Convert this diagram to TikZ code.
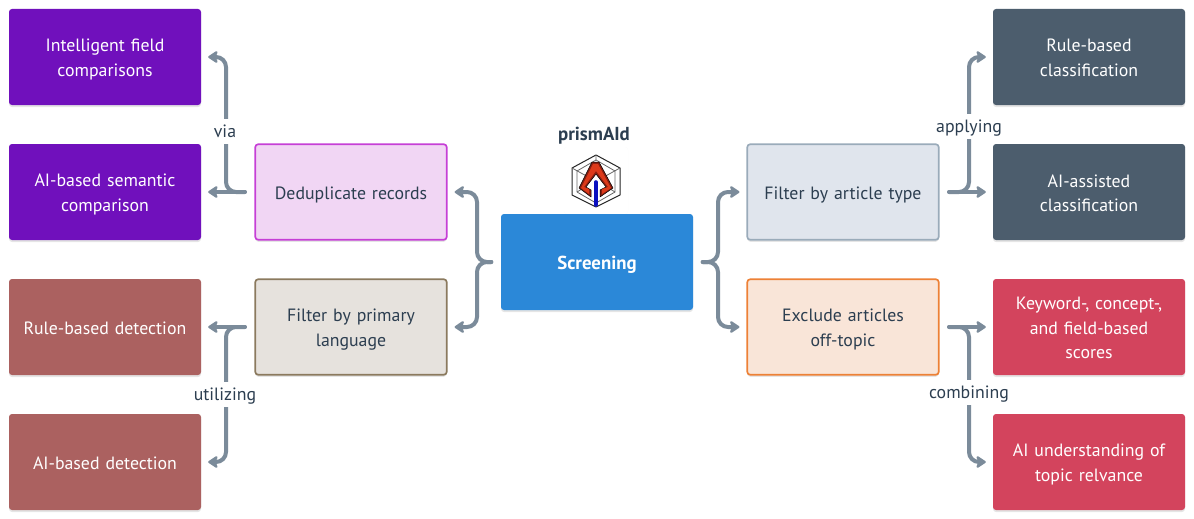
\documentclass[tikz,border=0pt]{standalone}
\usepackage{fontspec}
\setmainfont{PT Sans}
\usetikzlibrary{shadows,arrows.meta}
\definecolor{ink}{HTML}{2C3E50}
\definecolor{connc}{HTML}{7B8B9A}
\definecolor{cblue}{HTML}{2B88D8}
\definecolor{cpurple}{HTML}{7010BC}
\definecolor{crose}{HTML}{AB6160}
\definecolor{cslate}{HTML}{4C5D6D}
\definecolor{cred}{HTML}{D3445D}
\definecolor{fdedup}{HTML}{F1D6F4}
\definecolor{ddedup}{HTML}{C63FD6}
\definecolor{flang}{HTML}{E6E2DD}
\definecolor{dlang}{HTML}{8B7A5E}
\definecolor{ftype}{HTML}{E0E5ED}
\definecolor{dtype}{HTML}{9AABBA}
\definecolor{ftopic}{HTML}{F9E5D8}
\definecolor{dtopic}{HTML}{ED8136}
\definecolor{lred}{HTML}{DC3A1A}
\definecolor{ldark}{HTML}{8A1E10}
\definecolor{lblue}{HTML}{0A10C0}
\tikzset{
  x=1pt,y=-1pt,
  softshadow/.style={drop shadow={shadow xshift=0pt,shadow yshift=-2pt,opacity=.1,fill=black}},
  boxbase/.style={rounded corners=3pt,inner sep=0pt,minimum width=192pt,minimum height=96pt,align=center,text width=180pt,font=\fontsize{17.8}{24.5}\selectfont,softshadow,
    execute at begin node={\rule{0pt}{18pt}},execute at end node={\rule[-3.5pt]{0pt}{3.5pt}}},
  solidbox/.style={boxbase,fill=#1,text=white},
  palebox/.style={boxbase,text=ink,line width=1.7pt,minimum width=191.5pt,minimum height=95.5pt},
  conn/.style={draw=connc,line width=4pt,rounded corners=10pt,line cap=round,shorten <=9.5pt,shorten >=7pt,-{Stealth[length=11pt,width=14.5pt,inset=2.5pt,round]}},
  tag/.style={fill=white,text=ink,font=\fontsize{17.8}{20}\selectfont,inner sep=1pt,minimum height=25pt,text height=16pt,text depth=4pt},
}
\begin{document}
\begin{tikzpicture}
\useasboundingbox (0,0) rectangle (1194,519);
\fill[white] (0,0) rectangle (1194,519);
% logo
\fill[white,rounded corners=3pt,drop shadow={shadow xshift=0pt,shadow yshift=0pt,opacity=.03,fill=black}] (564,147) rectangle (628,214);
\node[text=ink,font=\bfseries\fontsize{18.8}{22}\selectfont] (brand) at (594,136) {prismAId};
\draw[black!85,line width=1pt,line join=round] (596,155)--(620,168)--(620,195)--(596,207)--(572,195)--(572,168)--cycle;
\draw[black!60,line width=.8pt,line join=round] (596,160)--(615,171)--(615,192)--(596,203)--(577,192)--(577,171)--cycle;
\draw[black!60,line width=.8pt] (572,168)--(590,178) (620,168)--(602,178) (596,155)--(596,160) (577,192)--(585,187) (615,192)--(607,187);
\fill[ldark,draw=black,line width=.5pt,line join=round] (592,162)--(599,162)--(613,188)--(600,197)--(600,190)--(606,187)--(596,174)--(586,187)--(591,190)--(591,197)--(579,188)--cycle;
\fill[lred] (593,164)--(598,164)--(611,188)--(602,194)--(602,189)--(608,187)--(596,171)--(584,187)--(589,189)--(589,194)--(581,188)--cycle;
\draw[line width=3.6pt,color=lblue,line cap=round] (595.7,182)--(595.7,205);
% nodes
\node[solidbox=cblue,font=\bfseries\fontsize{18.8}{24.5}\selectfont] (hub) at (597,262) {Screening};
\node[palebox,fill=fdedup,draw=ddedup] (dedup) at (351,192) {Deduplicate records};
\node[palebox,fill=flang,draw=dlang] (lang) at (351,327) {Filter by primary\\language};
\node[palebox,fill=ftype,draw=dtype] (type) at (843,192) {Filter by article type};
\node[palebox,fill=ftopic,draw=dtopic] (topic) at (843,327) {Exclude articles\\off-topic};
\node[solidbox=cpurple] (field) at (105,57) {Intelligent field\\comparisons};
\node[solidbox=cpurple] (sem) at (105,192) {AI-based semantic\\comparison};
\node[solidbox=crose] (rdet) at (105,327) {Rule-based detection};
\node[solidbox=crose] (adet) at (105,462) {AI-based detection};
\node[solidbox=cslate] (rcl) at (1089,57) {Rule-based\\classification};
\node[solidbox=cslate] (acl) at (1089,192) {AI-assisted\\classification};
\node[solidbox=cred] (kw) at (1089,327) {Keyword-, concept-,\\and field-based\\scores};
\node[solidbox=cred] (ait) at (1089,462) {AI understanding of\\topic relvance};
% buses
\coordinate (busA) at (226,0);
\coordinate (busB) at (969,0);
\coordinate (busC) at (477,0);
\coordinate (busD) at (718,0);
% connectors
\foreach \s/\t in {dedup/sem,lang/rdet}
  \draw[conn] (\s.west) -- (\t.east);
\foreach \s/\t in {type/acl,topic/kw}
  \draw[conn] (\s.east) -- (\t.west);
\foreach \s/\t in {dedup/field,lang/adet}
  \draw[conn] (\s.west) -- (\s.west -| busA) -- (\t.east -| busA) -- (\t.east);
\foreach \s/\t in {type/rcl,topic/ait}
  \draw[conn] (\s.east) -- (\s.east -| busB) -- (\t.west -| busB) -- (\t.west);
\foreach \t in {dedup,lang}
  \draw[conn] (hub.west) -- (hub.west -| busC) -- (\t.east -| busC) -- (\t.east);
\foreach \t in {type,topic}
  \draw[conn] (hub.east) -- (hub.east -| busD) -- (\t.west -| busD) -- (\t.west);
% labels
\node[tag] (lvia) at (225,131) {via};
\node[tag] (lutil) at (225,394) {utilizing};
\node[tag] (lappl) at (969,126) {applying};
\node[tag] (lcomb) at (969,392) {combining};
\end{tikzpicture}
\end{document}
